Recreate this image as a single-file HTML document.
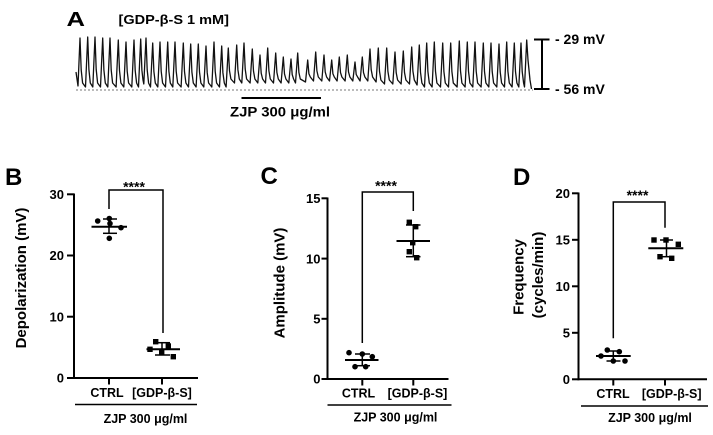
<!DOCTYPE html>
<html>
<head>
<meta charset="utf-8">
<style>
html,body{margin:0;padding:0;background:#fff;}
svg{display:block;}
text{font-family:"Liberation Sans",Arial,sans-serif;font-weight:bold;fill:#000;}
</style>
</head>
<body>
<svg width="713" height="435" viewBox="0 0 713 435" xmlns="http://www.w3.org/2000/svg">
<rect width="713" height="435" fill="#fff"/>

<!-- Panel A -->
<text x="66.5" y="26" font-size="20" textLength="18.5" lengthAdjust="spacingAndGlyphs">A</text>
<text x="118.5" y="24" font-size="12.5" textLength="110.5" lengthAdjust="spacingAndGlyphs">[GDP-β-S 1 mM]</text>

<line x1="76" y1="90" x2="533" y2="90" stroke="#777" stroke-width="1" stroke-dasharray="2,2"/>
<path fill="none" stroke="#111" stroke-width="1.3" stroke-linejoin="round" d="M76,72 L78,86 L80,38 L81.2,70 L82.6,83 L85.5,87 L87.7,37 L88.9,69.5 L90.3,83 L92.8,87 L95,37 L96.2,69.5 L97.6,83 L100.5,87 L102.7,38 L103.9,70 L105.3,83 L107.8,87 L110,38 L111.2,70 L112.6,83 L116.1,87 L118.3,40 L119.5,70.6 L120.9,83 L123.8,87 L126,42 L127.2,71.3 L128.6,83 L131.8,87 L134,40 L135.2,70.6 L136.6,83 L138.5,87 L140.7,39 L141.9,70.2 L143,80 L143.8,84 L146,38 L147.2,70 L148.6,83 L150.5,87 L152.7,43 L153.9,71.6 L155.3,83 L157.8,87 L160,42 L161.2,71.3 L162.6,83 L165.5,87 L167.7,42 L168.9,71.3 L170.3,83 L172.8,87 L175,42 L176.2,71.3 L177.6,83 L181.1,87 L183.3,43 L184.5,71.6 L185.9,83 L188.5,87 L190.7,44 L191.9,72 L193.3,83 L196.1,87 L198.3,44 L199.5,72 L200.9,83 L203.8,87 L206,46 L207.2,72.7 L208.6,83 L211.8,87 L214,42 L215.2,71.3 L216.6,83 L219.5,87 L221.7,46 L222.9,72.7 L224.3,83 L226.1,87 L228.3,48 L229.5,70.8 L230.9,79 L234.5,83 L236.7,45 L237.9,69.7 L239.3,79 L241.8,83 L244,43 L245.2,69 L246.6,79 L250.1,83 L252.3,49 L253.5,71.1 L254.9,79 L257.8,83 L260,55 L261.2,73.2 L262.6,79 L265.5,83 L267.7,48 L268.9,70.8 L270.3,79 L273.5,83 L275.7,53 L276.9,72.5 L278.3,79 L281.1,83 L283.3,57 L284.5,73.9 L285.9,79 L288.8,83 L291,59 L292.2,74.6 L293.6,79 L295.5,83 L297.7,53 L298.9,72.5 L300.3,79 L305.5,82 L307.7,60 L308.9,73.7 L310.3,77 L313.5,81 L315.7,52 L316.9,70.9 L318.3,77 L321.8,81 L324,55 L325.2,71.9 L326.6,77 L329.5,81 L331.7,60 L332.9,73.7 L334.3,77 L337.1,81 L339.3,57 L340.5,72.6 L341.9,77 L345.1,81 L347.3,55 L348.5,71.9 L349.9,77 L352.8,81 L355,62 L356.2,74.4 L357.6,77 L360.1,81 L362.3,57 L363.5,72.6 L364.9,77 L367.8,81 L370,49 L371.2,69.8 L372.6,77 L376.1,82 L378.3,48 L379.5,71.4 L380.9,80 L384.5,84 L386.7,48 L387.9,71.4 L389.3,80 L392.8,84 L395,52 L396.2,72.8 L397.6,80 L401.1,84 L403.3,51 L404.5,72.5 L405.9,80 L409.5,84 L411.7,47 L412.9,71 L414.3,80 L417.1,85 L419.3,45 L420.5,72.3 L421.9,83 L424.5,87 L426.7,43 L427.9,71.6 L429.3,83 L432.1,87 L434.3,42 L435.5,71.3 L436.9,83 L440.5,87 L442.7,43 L443.9,71.6 L445.3,83 L448.5,87 L450.7,43 L451.9,71.6 L453.3,83 L457.1,87 L459.3,41 L460.5,70.9 L461.9,83 L465.1,87 L467.3,42 L468.5,71.3 L469.9,83 L472.8,87 L475,42 L476.2,71.3 L477.6,83 L481.1,87 L483.3,43 L484.5,71.6 L485.9,83 L488.8,87 L491,43 L492.2,71.6 L493.6,83 L496.8,87 L499,44 L500.2,72 L501.6,83 L504.5,87 L506.7,42 L507.9,71.3 L509.3,83 L512.1,87 L514.3,43 L515.5,71.6 L516.9,83 L518.8,87 L521,43 L522.2,71.6 L523.6,83 L524.5,87 L526.7,40 L528,60 L530,80 L531.5,89"/>

<!-- scale bar -->
<g stroke="#000" stroke-width="2">
<line x1="542" y1="39" x2="542" y2="89"/>
<line x1="534" y1="39.5" x2="549.5" y2="39.5"/>
<line x1="534" y1="89" x2="549.5" y2="89"/>
</g>
<text x="555" y="44" font-size="14">- 29 mV</text>
<text x="555" y="94" font-size="14">- 56 mV</text>

<!-- ZJP bar -->
<line x1="241.5" y1="98" x2="321" y2="98" stroke="#000" stroke-width="2"/>
<text x="230" y="116.5" font-size="13.5" textLength="100" lengthAdjust="spacingAndGlyphs">ZJP 300 μg/ml</text>

<!-- Panel B -->
<text x="5" y="185" font-size="24">B</text>
<g stroke="#000" stroke-width="2" fill="none">
<line x1="74" y1="193.5" x2="74" y2="379"/>
<line x1="73" y1="378" x2="198" y2="378"/>
<line x1="67" y1="194.3" x2="74" y2="194.3"/>
<line x1="67" y1="255.5" x2="74" y2="255.5"/>
<line x1="67" y1="316.7" x2="74" y2="316.7"/>
<line x1="67" y1="378" x2="74" y2="378"/>
<line x1="109" y1="378" x2="109" y2="384.5"/>
<line x1="162" y1="378" x2="162" y2="384.5"/>
</g>
<g font-size="13" text-anchor="end">
<text x="64" y="199">30</text>
<text x="64" y="260.2">20</text>
<text x="64" y="321.4">10</text>
<text x="64" y="382.7">0</text>
</g>
<g font-size="12.5" text-anchor="middle">
<text x="107" y="397">CTRL</text>
<text x="162" y="397">[GDP-β-S]</text>
<text x="145.5" y="423">ZJP 300 μg/ml</text>
</g>
<line x1="75" y1="404.5" x2="197" y2="404.5" stroke="#000" stroke-width="1.6"/>
<text transform="translate(26,278) rotate(-90)" font-size="15" text-anchor="middle">Depolarization (mV)</text>
<polyline points="109,209 109,190 163,190 163,333" fill="none" stroke="#000" stroke-width="1.5"/>
<text x="134" y="191.5" font-size="14" text-anchor="middle">****</text>
<!-- B data -->
<g stroke="#000" stroke-width="1.5">
<line x1="109" y1="219" x2="109" y2="233.3"/>
<line x1="103" y1="219" x2="117" y2="219"/>
<line x1="103" y1="233.3" x2="117" y2="233.3"/>
<line x1="91.5" y1="226.7" x2="127" y2="226.7" stroke-width="2"/>
<line x1="162" y1="342.7" x2="162" y2="355"/>
<line x1="155" y1="342.7" x2="170" y2="342.7"/>
<line x1="155" y1="355" x2="170" y2="355"/>
<line x1="146.5" y1="349.3" x2="180" y2="349.3" stroke-width="2"/>
</g>
<g fill="#000">
<circle cx="97.7" cy="221" r="2.8"/>
<circle cx="109.3" cy="218.5" r="2.8"/>
<circle cx="110" cy="223.5" r="2.8"/>
<circle cx="121" cy="227.7" r="2.8"/>
<circle cx="109.3" cy="238.3" r="2.8"/>
<rect x="147.3" y="346.6" width="5.4" height="5.4"/>
<rect x="153" y="339" width="5.4" height="5.4"/>
<rect x="165.6" y="343.3" width="5.4" height="5.4"/>
<rect x="159" y="350" width="5.4" height="5.4"/>
<rect x="170.6" y="354" width="5.4" height="5.4"/>
</g>

<!-- Panel C -->
<text x="260.5" y="184" font-size="24">C</text>
<g stroke="#000" stroke-width="2" fill="none">
<line x1="327.5" y1="197.5" x2="327.5" y2="380"/>
<line x1="326.5" y1="379" x2="448.5" y2="379"/>
<line x1="321.5" y1="198.3" x2="327.5" y2="198.3"/>
<line x1="321.5" y1="258.6" x2="327.5" y2="258.6"/>
<line x1="321.5" y1="318.8" x2="327.5" y2="318.8"/>
<line x1="321.5" y1="379" x2="327.5" y2="379"/>
<line x1="362.3" y1="379" x2="362.3" y2="385.5"/>
<line x1="413.3" y1="379" x2="413.3" y2="385.5"/>
</g>
<g font-size="13" text-anchor="end">
<text x="320.5" y="203">15</text>
<text x="320.5" y="263.3">10</text>
<text x="320.5" y="323.5">5</text>
<text x="320.5" y="383.7">0</text>
</g>
<g font-size="12.5" text-anchor="middle">
<text x="358.5" y="397.5">CTRL</text>
<text x="417.5" y="397.5">[GDP-β-S]</text>
<text x="395.5" y="421.5">ZJP 300 μg/ml</text>
</g>
<line x1="327.5" y1="405" x2="451.5" y2="405" stroke="#000" stroke-width="1.6"/>
<text transform="translate(284.5,283) rotate(-90)" font-size="15" text-anchor="middle">Amplitude (mV)</text>
<polyline points="362.3,343 362.3,192 413.3,192 413.3,211" fill="none" stroke="#000" stroke-width="1.5"/>
<text x="386" y="190.5" font-size="14" text-anchor="middle">****</text>
<g stroke="#000" stroke-width="1.5">
<line x1="362.3" y1="354" x2="362.3" y2="365.7"/>
<line x1="355" y1="354" x2="370" y2="354"/>
<line x1="355" y1="365.7" x2="370" y2="365.7"/>
<line x1="345" y1="360" x2="378.5" y2="360" stroke-width="2"/>
<line x1="413.3" y1="225" x2="413.3" y2="256.7"/>
<line x1="406" y1="225" x2="420.5" y2="225"/>
<line x1="406" y1="256.7" x2="420.5" y2="256.7"/>
<line x1="396.5" y1="241" x2="430" y2="241" stroke-width="2"/>
</g>
<g fill="#000">
<circle cx="349" cy="352.7" r="2.8"/>
<circle cx="362.3" cy="354" r="2.8"/>
<circle cx="372.3" cy="356.7" r="2.8"/>
<circle cx="355" cy="366.7" r="2.8"/>
<circle cx="365.7" cy="366.7" r="2.8"/>
<rect x="406.6" y="219.6" width="5.4" height="5.4"/>
<rect x="413" y="224" width="5.4" height="5.4"/>
<rect x="410" y="240" width="5.4" height="5.4"/>
<rect x="406.6" y="249" width="5.4" height="5.4"/>
<rect x="414" y="255" width="5.4" height="5.4"/>
</g>

<!-- Panel D -->
<text x="513" y="185" font-size="24">D</text>
<g stroke="#000" stroke-width="2" fill="none">
<line x1="578.5" y1="192.5" x2="578.5" y2="380.3"/>
<line x1="577.5" y1="379.3" x2="707" y2="379.3"/>
<line x1="572" y1="193.3" x2="578.5" y2="193.3"/>
<line x1="572" y1="239.8" x2="578.5" y2="239.8"/>
<line x1="572" y1="286.3" x2="578.5" y2="286.3"/>
<line x1="572" y1="332.8" x2="578.5" y2="332.8"/>
<line x1="572" y1="379.3" x2="578.5" y2="379.3"/>
<line x1="613.3" y1="379.3" x2="613.3" y2="385.5"/>
<line x1="665" y1="379.3" x2="665" y2="385.5"/>
</g>
<g font-size="13" text-anchor="end">
<text x="570" y="198">20</text>
<text x="570" y="244.5">15</text>
<text x="570" y="291">10</text>
<text x="570" y="337.5">5</text>
<text x="570" y="384">0</text>
</g>
<g font-size="12.5" text-anchor="middle">
<text x="613" y="398">CTRL</text>
<text x="671.7" y="398">[GDP-β-S]</text>
<text x="650" y="422">ZJP 300 μg/ml</text>
</g>
<line x1="581" y1="406" x2="708" y2="406" stroke="#000" stroke-width="1.6"/>
<text transform="translate(523.5,277) rotate(-90)" font-size="15" text-anchor="middle">Frequency</text>
<text transform="translate(543,275) rotate(-90)" font-size="15" text-anchor="middle">(cycles/min)</text>
<polyline points="613.3,338.3 613.3,202 665,202 665,227.7" fill="none" stroke="#000" stroke-width="1.5"/>
<text x="637.5" y="200" font-size="14" text-anchor="middle">****</text>
<g stroke="#000" stroke-width="1.5">
<line x1="613.3" y1="351" x2="613.3" y2="361"/>
<line x1="606.5" y1="351" x2="620.5" y2="351"/>
<line x1="606.5" y1="361" x2="620.5" y2="361"/>
<line x1="596" y1="356" x2="630.7" y2="356" stroke-width="2"/>
<line x1="666.5" y1="240" x2="666.5" y2="256.7"/>
<line x1="660" y1="240" x2="673" y2="240"/>
<line x1="660" y1="256.7" x2="673" y2="256.7"/>
<line x1="648.3" y1="248.3" x2="683.3" y2="248.3" stroke-width="2"/>
</g>
<g fill="#000">
<circle cx="607.3" cy="350" r="2.8"/>
<circle cx="619.3" cy="351.7" r="2.8"/>
<circle cx="601" cy="356" r="2.8"/>
<circle cx="613.3" cy="361" r="2.8"/>
<circle cx="625" cy="361" r="2.8"/>
<rect x="651.3" y="237.3" width="5.4" height="5.4"/>
<rect x="663.3" y="237.3" width="5.4" height="5.4"/>
<rect x="675.6" y="241.6" width="5.4" height="5.4"/>
<rect x="657.3" y="254" width="5.4" height="5.4"/>
<rect x="669" y="255.6" width="5.4" height="5.4"/>
</g>
</svg>
</body>
</html>
